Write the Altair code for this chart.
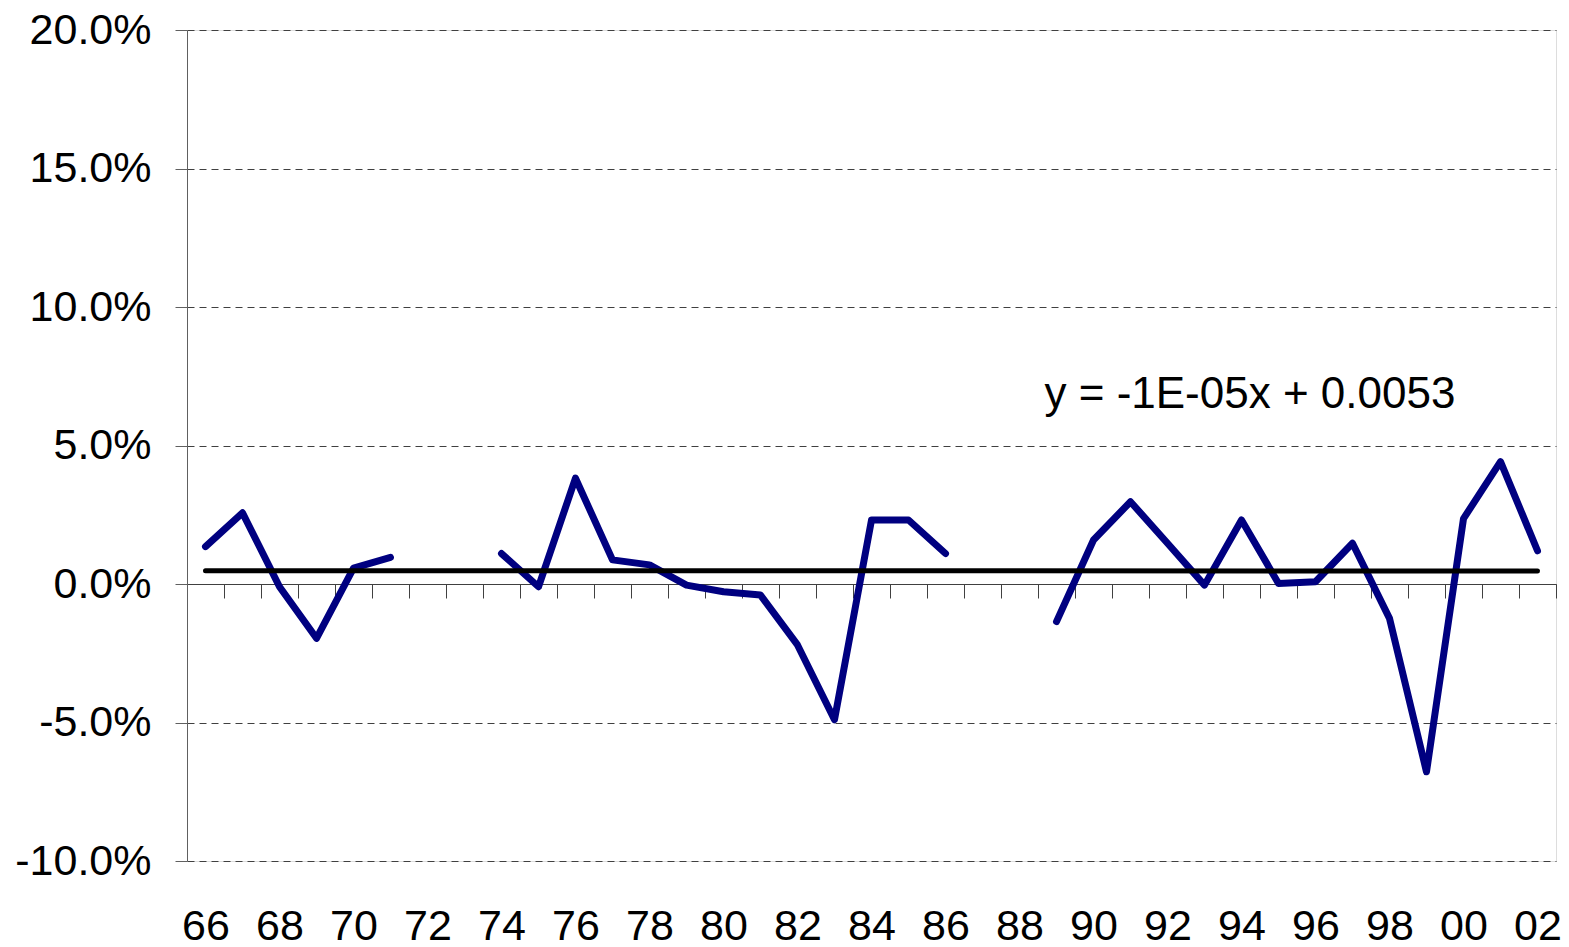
import altair as alt
import pandas as pd

years = ["66", "67", "68", "69", "70", "71", "72", "73", "74", "75", "76", "77",
         "78", "79", "80", "81", "82", "83", "84", "85", "86", "87", "88", "89",
         "90", "91", "92", "93", "94", "95", "96", "97", "98", "99", "00", "01", "02"]
# percent values, None = missing year
values = [1.35, 2.57, -0.10, -1.96, 0.57, 0.96, None, None, 1.10, -0.10, 3.82, 0.87,
          0.69, -0.04, -0.28, -0.40, -2.20, -4.90, 2.31, 2.31, 1.10, None, None, -1.36,
          1.59, 2.97, 1.47, -0.04, 2.31, 0.02, 0.08, 1.47, -1.24, -6.78, 2.36, 4.42, 1.20]

trend_years = ["66", "02"]
trend_values = [0.0048, 0.0047]

y_ticks = [-0.10, -0.05, 0.0, 0.05, 0.10, 0.15, 0.20]
y_domain = [-0.10, 0.20]

equation = "y = -1E-05x + 0.0053"
eq_year = "89"
eq_value = 0.0635

W, H = 1369, 831
FONT = "Liberation Sans"

# split into segments at gaps
seg_ids = []
s = 0
gap = False
for v in values:
    if v is None:
        gap = True
        seg_ids.append(None)
        continue
    if gap:
        s += 1
        gap = False
    seg_ids.append(s)

df = pd.DataFrame({
    "year": years,
    "value": [None if v is None else v / 100 for v in values],
    "seg": seg_ids,
}).dropna()

trend_df = pd.DataFrame({"year": trend_years, "value": trend_values})
eq_df = pd.DataFrame({"year": [eq_year], "value": [eq_value], "text": [equation]})

x_offset = -H * (0 - y_domain[0]) / (y_domain[1] - y_domain[0])

x_scale = alt.Scale(type="band", domain=years, paddingInner=0, paddingOuter=0)
y_scale = alt.Scale(domain=y_domain, nice=False, zero=False)

x_axis = alt.Axis(
    title=None,
    offset=x_offset,
    tickBand="extent",
    tickSize=14,
    tickColor="#404040",
    tickWidth=1,
    domainColor="#404040",
    domainWidth=1,
    grid=False,
    labelAngle=0,
    labelOverlap=False,
    labelExpr="parseInt(datum.value) % 2 == 0 ? datum.label : ''",
    labelBaseline="alphabetic",
    labelPadding=341,
    labelFontSize=43,
    labelFont=FONT,
    labelColor="black",
)

y_axis = alt.Axis(
    title=None,
    values=y_ticks,
    labelExpr="replace(format(datum.value, '.1%'), '\u2212', '-')",
    grid=True,
    gridDash=[7, 5],
    gridColor="#404040",
    gridWidth=1,
    domainColor="#606060",
    domainWidth=1,
    tickColor="#606060",
    tickSize=12,
    labelPadding=24,
    labelFontSize=43,
    labelFont=FONT,
    labelColor="black",
)

series = alt.Chart(df).mark_line(
    color="#000080", strokeWidth=7, strokeCap="round", strokeJoin="round"
).encode(
    x=alt.X("year:N", scale=x_scale, axis=x_axis, bandPosition=0.5, sort=years),
    y=alt.Y("value:Q", scale=y_scale, axis=y_axis),
    detail="seg:N",
)

trend = alt.Chart(trend_df).mark_line(
    color="black", strokeWidth=5, strokeCap="round"
).encode(
    x=alt.X("year:N", scale=x_scale, bandPosition=0.5, sort=years),
    y=alt.Y("value:Q", scale=y_scale),
)

eq = alt.Chart(eq_df).mark_text(
    align="left", baseline="alphabetic", fontSize=44, font=FONT, color="black", dx=-12
).encode(
    x=alt.X("year:N", scale=x_scale, bandPosition=0.5, sort=years),
    y=alt.Y("value:Q", scale=y_scale),
    text="text:N",
)

chart = alt.layer(series, trend, eq).properties(
    width=W, height=H,
    autosize=alt.AutoSizeParams(type="none"),
    padding={"left": 179, "top": 22, "right": 5, "bottom": 92},
).configure_view(stroke=None).configure(background="white")

chart.save("out.html", embed_options={"renderer": "svg", "actions": False})
